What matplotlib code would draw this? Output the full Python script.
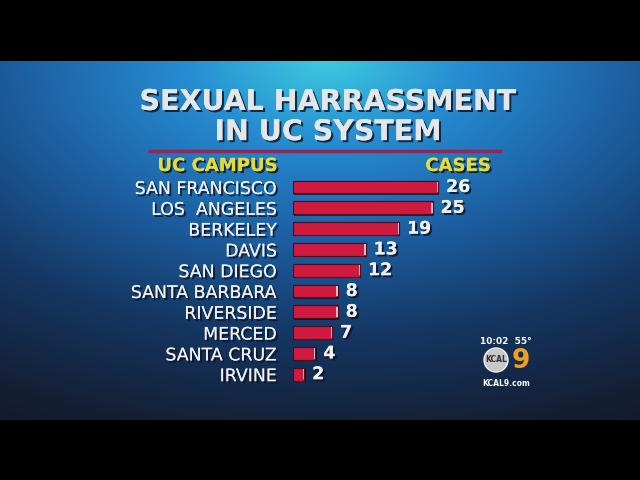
import numpy as np
import matplotlib
matplotlib.use("Agg")
import matplotlib.pyplot as plt
import matplotlib.patheffects as pe
from matplotlib.patches import Circle

# data
campuses = ["SAN FRANCISCO", "LOS  ANGELES", "BERKELEY", "DAVIS", "SAN DIEGO",
            "SANTA BARBARA", "RIVERSIDE", "MERCED", "SANTA CRUZ", "IRVINE"]
cases = [26, 25, 19, 13, 12, 8, 8, 7, 4, 2]

title = "SEXUAL HARRASSMENT\nIN UC SYSTEM"

W, H = 640, 480
fig = plt.figure(figsize=(6.4, 4.8), dpi=100, facecolor="black")

# background axes in pixel units
bg = fig.add_axes([0, 0, 1, 1])
bg.set_xlim(0, W)
bg.set_ylim(H, 0)
bg.axis("off")

# radial blue gradient for the TV graphic
yy, xx = np.mgrid[61:420, 0:W]
d = np.sqrt(((xx - 325) / 560.0) ** 2 + ((yy - 58) / 330.0) ** 2)
stops = [0.0, 0.25, 0.55, 0.85, 1.15, 1.5]
cols = np.array([[0.24, 0.80, 0.88],
                 [0.15, 0.55, 0.82],
                 [0.11, 0.37, 0.63],
                 [0.08, 0.21, 0.38],
                 [0.08, 0.12, 0.20],
                 [0.07, 0.08, 0.12]])
img = np.stack([np.interp(d, stops, cols[:, k]) for k in range(3)], axis=-1)
bg.imshow(img, extent=(0, W, 420, 61), aspect="auto", zorder=0)

shadow = [pe.withSimplePatchShadow(offset=(1.5, -1.5), shadow_rgbFace="#0a1020", alpha=0.8),
          pe.Normal()]

# title
bg.text(328, 117, title, ha="center", va="center", fontsize=20.5, fontweight="bold",
        color="#e4e6ea", linespacing=1.1, path_effects=shadow)
bg.plot([148, 502], [151, 151], color="#8a2a58", lw=2.5, solid_capstyle="butt")

# column headers
bg.text(277, 166, "UC CAMPUS", ha="right", va="center", fontsize=13, fontweight="bold",
        color="#e2dc3a", path_effects=shadow)
bg.text(458, 166, "CASES", ha="center", va="center", fontsize=13, fontweight="bold",
        color="#e2dc3a", path_effects=shadow)

# station bug
bg.text(506, 341, "10:02  55°", ha="center", va="center", fontsize=6.5, fontweight="bold",
        color="white")
bg.add_patch(Circle((496, 360), 12, facecolor="#c8c8c8", edgecolor="#f0f0f0", lw=1, zorder=3))
bg.text(496, 360, "KCAL", ha="center", va="center", fontsize=5.5, color="#303030",
        fontweight="bold", zorder=4)
bg.text(521, 361, "9", ha="center", va="center", fontsize=19, fontweight="bold",
        color="#f0a020", zorder=4)
bg.text(506, 383, "KCAL9.com", ha="center", va="center", fontsize=5.5, fontweight="bold",
        color="white")

# bar axes: left edge at x=293 px, 5.58 px per case, rows every 20.8 px from y=187
px_per = 5.58
row = 20.8
left, top = 293, 187 - row / 2
ax_w = 170
ax = fig.add_axes([left / W, 1 - (top + row * len(cases)) / H, ax_w / W, row * len(cases) / H])
ax.set_xlim(0, ax_w / px_per)
ax.set_ylim(len(cases) - 0.5, -0.5)
ax.patch.set_alpha(0)
for s in ax.spines.values():
    s.set_visible(False)

ypos = np.arange(len(cases))
ax.barh(ypos, cases, height=0.62, color="#d01a3e", edgecolor="#4a0a20", linewidth=0.8,
        path_effects=[pe.withSimplePatchShadow(offset=(1, -1), shadow_rgbFace="#081020", alpha=0.7),
                      pe.Normal()])
# light cap on the right end of each bar
ax.barh(ypos, [0.25] * len(cases), left=np.array(cases) - 0.25, height=0.5,
        color="#e8b8c4", linewidth=0)
ax.set_xticks([])
ax.set_yticks(ypos)
ax.set_yticklabels(campuses, fontsize=12.5, color="#eef0f2")
ax.tick_params(axis="y", length=0, pad=11.5)
for lab in ax.get_yticklabels():
    lab.set_path_effects(shadow)

for i, v in enumerate(cases):
    ax.text(v + 8 / px_per, i, str(v), va="center", ha="left", fontsize=12.5, fontweight="bold",
            color="#eef0f2", path_effects=shadow)

fig.savefig("out.png", dpi=100, facecolor="black")
